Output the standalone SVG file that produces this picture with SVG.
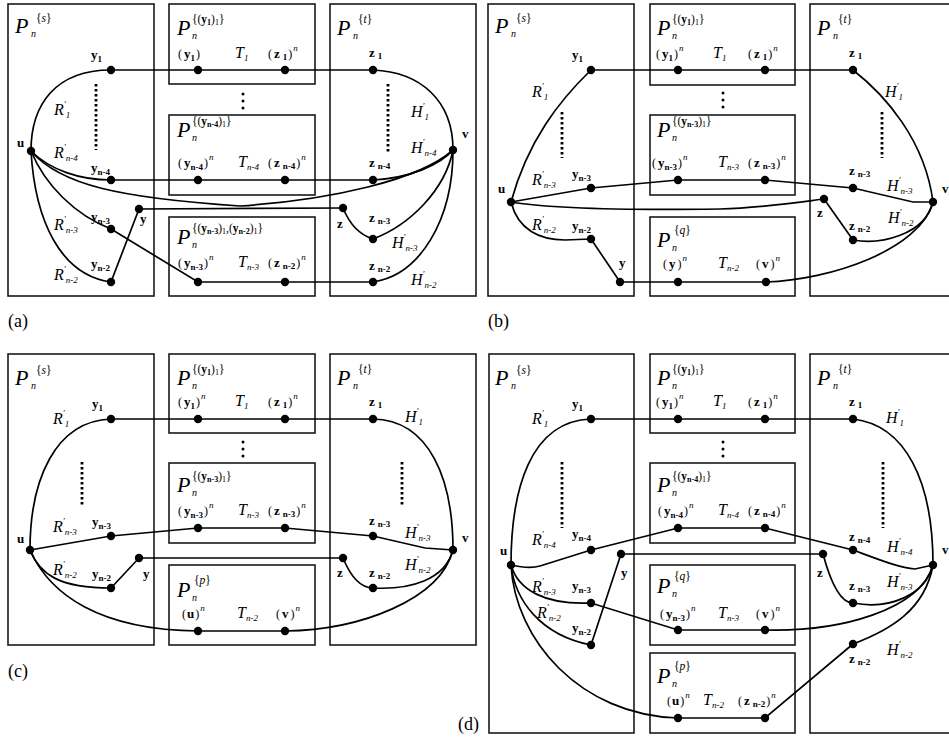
<svg xmlns="http://www.w3.org/2000/svg" width="949" height="737" viewBox="0 0 949 737">
<style>
.box{fill:none;stroke:#1a1a1a;stroke-width:1.6}
.e{fill:none;stroke:#000;stroke-width:1.7}
.d{fill:#000}
.dl{stroke:#000;stroke-width:2.8;stroke-dasharray:2.4 2.6}
text{font-family:'Liberation Serif','Times New Roman',serif;fill:#000}
.P{font-size:22px;font-style:italic}
.pn{font-size:10px;font-style:italic}
.sup{font-size:11.5px}
.sb{font-size:8px}
.b{font-size:13px;font-weight:bold}
.bs{font-size:9px;font-weight:bold}
.T{font-size:16px;font-style:italic}
.ts{font-size:9px;font-style:italic}
.par{font-size:12px}
.cap{font-size:18px}
</style>
<rect width="949" height="737" fill="#fff"/>

<!-- ================= (a) ================= -->
<g id="diagram-a">
<g id="a-Ps"><rect class="box" x="8" y="4" width="146" height="292"/>
<text class="P" x="15" y="33">P</text><text class="pn" x="31" y="37">n</text><text class="sup" x="36" y="22">{<tspan font-style="italic">s</tspan>}</text></g>
<g id="a-P1"><rect class="box" x="169" y="4" width="146" height="80"/>
<text class="P" x="177" y="35">P</text><text class="pn" x="192" y="39">n</text><text class="sup" x="192" y="23">{(<tspan font-weight="bold">y</tspan><tspan class="sb" font-weight="bold" dy="2">1</tspan><tspan dy="-2">)</tspan><tspan class="sb" dy="2">1</tspan><tspan dy="-2">}</tspan></text>
<text class="T" x="235" y="58">T<tspan class="ts" dy="3">1</tspan></text></g>
<g id="a-P2"><rect class="box" x="169" y="115" width="146" height="80"/>
<text class="P" x="177" y="137">P</text><text class="pn" x="192" y="141">n</text><text class="sup" x="192" y="125">{(<tspan font-weight="bold">y</tspan><tspan class="sb" font-weight="bold" dy="2">n-4</tspan><tspan dy="-2">)</tspan><tspan class="sb" dy="2">1</tspan><tspan dy="-2">}</tspan></text>
<text class="T" x="238" y="167">T<tspan class="ts" dy="3">n-4</tspan></text></g>
<g id="a-P3"><rect class="box" x="169" y="217" width="146" height="79"/>
<text class="P" x="177" y="244">P</text><text class="pn" x="192" y="248">n</text><text class="sup" x="192" y="232">{(<tspan font-weight="bold">y</tspan><tspan class="sb" font-weight="bold" dy="2">n-3</tspan><tspan dy="-2">)</tspan><tspan class="sb" dy="2">1</tspan><tspan dy="-2">,(</tspan><tspan font-weight="bold">y</tspan><tspan class="sb" font-weight="bold" dy="2">n-2</tspan><tspan dy="-2">)</tspan><tspan class="sb" dy="2">1</tspan><tspan dy="-2">}</tspan></text>
<text class="T" x="238" y="267">T<tspan class="ts" dy="3">n-3</tspan></text></g>
<g id="a-Pt"><rect class="box" x="330" y="4" width="146" height="292"/>
<text class="P" x="337" y="35">P</text><text class="pn" x="353" y="39">n</text><text class="sup" x="358" y="23">{<tspan font-style="italic">t</tspan>}</text></g>

<g id="a-edges">
<path class="e" d="M31,151 C31,105 55,70 111,70"/>
<path class="e" d="M111,70 H373"/>
<path class="e" d="M373,70 C420,72 453,100 453,150"/>
<path class="e" d="M31,151 C50,170 80,180 111,180"/>
<path class="e" d="M111,180 H373"/>
<path class="e" d="M373,180 C410,178 440,165 453,150"/>
<path class="e" d="M31,151 C60,185 120,198 240,206 C330,200 420,180 453,150"/>
<path class="e" d="M31,151 C45,185 75,215 111,229"/>
<path class="e" d="M31,151 C35,220 60,275 111,282"/>
<path class="e" d="M111,229 L198,282 H373"/>
<path class="e" d="M373,282 C420,275 453,220 453,150"/>
<path class="e" d="M111,282 L139,209 L343,208"/>
<path class="e" d="M343,208 C350,225 360,235 373,239"/>
<path class="e" d="M373,239 C410,225 445,190 453,150"/>
<line class="dl" x1="96" y1="84" x2="96" y2="150"/>
<line class="dl" x1="388" y1="84" x2="388" y2="152"/>
<circle class="d" cx="243" cy="94" r="1.5"/><circle class="d" cx="243" cy="101" r="1.5"/><circle class="d" cx="243" cy="108" r="1.5"/>
<text class="T" x="54" y="115">R<tspan class="ts" dy="-8">′</tspan><tspan class="ts" dy="11">1</tspan></text>
<text class="T" x="54" y="158">R<tspan class="ts" dy="-8">′</tspan><tspan class="ts" dy="11">n-4</tspan></text>
<text class="T" x="54" y="230">R<tspan class="ts" dy="-8">′</tspan><tspan class="ts" dy="11">n-3</tspan></text>
<text class="T" x="54" y="280">R<tspan class="ts" dy="-8">′</tspan><tspan class="ts" dy="11">n-2</tspan></text>
<text class="T" x="411" y="117">H<tspan class="ts" dy="-8">′</tspan><tspan class="ts" dy="11">1</tspan></text>
<text class="T" x="411" y="153">H<tspan class="ts" dy="-8">′</tspan><tspan class="ts" dy="11">n-4</tspan></text>
<text class="T" x="392" y="248">H<tspan class="ts" dy="-8">′</tspan><tspan class="ts" dy="11">n-3</tspan></text>
<text class="T" x="411" y="285">H<tspan class="ts" dy="-8">′</tspan><tspan class="ts" dy="11">n-2</tspan></text>
</g>

<g id="a-u"><circle class="d" cx="31" cy="151" r="4.2"/><text class="b" x="17" y="147">u</text></g>
<g id="a-v"><circle class="d" cx="453" cy="150" r="4.2"/><text class="b" x="462" y="138">v</text></g>
<g id="a-y1"><circle class="d" cx="111" cy="70" r="4.2"/><text class="b" x="91" y="59">y<tspan class="bs" dy="3">1</tspan></text></g>
<g id="a-yn4"><circle class="d" cx="111" cy="180" r="4.2"/><text class="b" x="91" y="172">y<tspan class="bs" dy="3">n-4</tspan></text></g>
<g id="a-yn3"><circle class="d" cx="111" cy="229" r="4.2"/><text class="b" x="91" y="221">y<tspan class="bs" dy="3">n-3</tspan></text></g>
<g id="a-yn2"><circle class="d" cx="111" cy="282" r="4.2"/><text class="b" x="91" y="268">y<tspan class="bs" dy="3">n-2</tspan></text></g>
<g id="a-y"><circle class="d" cx="139" cy="209" r="4.2"/><text class="b" x="140" y="223">y</text></g>
<g id="a-z"><circle class="d" cx="343" cy="208" r="4.2"/><text class="b" x="337" y="228">z</text></g>
<g id="a-z1"><circle class="d" cx="373" cy="70" r="4.2"/><text class="b" x="369" y="57">z<tspan class="bs" dx="3" dy="2">1</tspan></text></g>
<g id="a-zn4"><circle class="d" cx="373" cy="180" r="4.2"/><text class="b" x="369" y="167">z<tspan class="bs" dx="3" dy="2">n-4</tspan></text></g>
<g id="a-zn3"><circle class="d" cx="373" cy="239" r="4.2"/><text class="b" x="369" y="222">z<tspan class="bs" dx="3" dy="2">n-3</tspan></text></g>
<g id="a-zn2"><circle class="d" cx="373" cy="282" r="4.2"/><text class="b" x="369" y="270">z<tspan class="bs" dx="3" dy="2">n-2</tspan></text></g>
<g id="a-y1c"><circle class="d" cx="198" cy="70" r="4.2"/><text class="par" x="178" y="58">(<tspan class="b" dx="2">y</tspan><tspan class="bs" dy="3">1</tspan><tspan dx="1" dy="-3">)</tspan></text></g>
<g id="a-z1c"><circle class="d" cx="285" cy="70" r="4.2"/><text class="par" x="268" y="58">(<tspan class="b" dx="2">z</tspan><tspan class="bs" dx="3" dy="2">1</tspan><tspan dx="1" dy="-2">)</tspan><tspan class="ts" dx="1" dy="-7">n</tspan></text></g>
<g id="a-yn4c"><circle class="d" cx="198" cy="180" r="4.2"/><text class="par" x="178" y="167">(<tspan class="b" dx="2">y</tspan><tspan class="bs" dy="3">n-4</tspan><tspan dx="1" dy="-3">)</tspan><tspan class="ts" dx="1" dy="-7">n</tspan></text></g>
<g id="a-zn4c"><circle class="d" cx="285" cy="180" r="4.2"/><text class="par" x="268" y="167">(<tspan class="b" dx="2">z</tspan><tspan class="bs" dx="3" dy="2">n-4</tspan><tspan dx="1" dy="-2">)</tspan><tspan class="ts" dx="1" dy="-7">n</tspan></text></g>
<g id="a-yn3c"><circle class="d" cx="198" cy="282" r="4.2"/><text class="par" x="178" y="267">(<tspan class="b" dx="2">y</tspan><tspan class="bs" dy="3">n-3</tspan><tspan dx="1" dy="-3">)</tspan><tspan class="ts" dx="1" dy="-7">n</tspan></text></g>
<g id="a-zn2c"><circle class="d" cx="285" cy="282" r="4.2"/><text class="par" x="268" y="267">(<tspan class="b" dx="2">z</tspan><tspan class="bs" dx="3" dy="2">n-2</tspan><tspan dx="1" dy="-2">)</tspan><tspan class="ts" dx="1" dy="-7">n</tspan></text></g>
<text class="cap" x="8" y="327">(a)</text>
</g>

<!-- ================= (b) ================= -->
<g id="diagram-b">
<g id="b-Ps"><rect class="box" x="488" y="4" width="146" height="292"/>
<text class="P" x="495" y="33">P</text><text class="pn" x="511" y="37">n</text><text class="sup" x="516" y="22">{<tspan font-style="italic">s</tspan>}</text></g>
<g id="b-P1"><rect class="box" x="650" y="4" width="145" height="81"/>
<text class="P" x="657" y="35">P</text><text class="pn" x="672" y="39">n</text><text class="sup" x="672" y="23">{(<tspan font-weight="bold">y</tspan><tspan class="sb" font-weight="bold" dy="2">1</tspan><tspan dy="-2">)</tspan><tspan class="sb" dy="2">1</tspan><tspan dy="-2">}</tspan></text>
<text class="T" x="713" y="58">T<tspan class="ts" dy="3">1</tspan></text></g>
<g id="b-P2"><rect class="box" x="650" y="115" width="145" height="80"/>
<text class="P" x="657" y="137">P</text><text class="pn" x="672" y="141">n</text><text class="sup" x="672" y="125">{(<tspan font-weight="bold">y</tspan><tspan class="sb" font-weight="bold" dy="2">n-3</tspan><tspan dy="-2">)</tspan><tspan class="sb" dy="2">1</tspan><tspan dy="-2">}</tspan></text>
<text class="T" x="718" y="167">T<tspan class="ts" dy="3">n-3</tspan></text></g>
<g id="b-P3"><rect class="box" x="650" y="217" width="145" height="79"/>
<text class="P" x="657" y="247">P</text><text class="pn" x="672" y="251">n</text><text class="sup" x="674" y="234">{<tspan font-style="italic">q</tspan>}</text>
<text class="T" x="718" y="268">T<tspan class="ts" dy="3">n-2</tspan></text></g>
<g id="b-Pt"><rect class="box" x="810" y="4" width="146" height="292"/>
<text class="P" x="817" y="35">P</text><text class="pn" x="833" y="39">n</text><text class="sup" x="838" y="23">{<tspan font-style="italic">t</tspan>}</text></g>

<g id="b-edges">
<path class="e" d="M511,202 C528,140 560,100 591,70"/>
<path class="e" d="M591,70 H853"/>
<path class="e" d="M853,70 C885,95 925,140 933,202"/>
<path class="e" d="M511,202 L591,188 L678,180 H765 L853,188 L913,202 L933,202"/>
<path class="e" d="M511,202 C560,210 650,210 720,209 C760,208 800,202 824,199"/>
<path class="e" d="M511,202 C518,230 540,240 565,240 L591,239"/>
<path class="e" d="M591,239 L620,282 H766"/>
<path class="e" d="M766,282 C830,280 920,250 933,202"/>
<path class="e" d="M824,199 L853,240"/>
<path class="e" d="M853,240 C880,245 925,235 933,202"/>
<line class="dl" x1="562" y1="112" x2="562" y2="158"/>
<line class="dl" x1="882" y1="112" x2="882" y2="158"/>
<circle class="d" cx="723" cy="93" r="1.5"/><circle class="d" cx="723" cy="100" r="1.5"/><circle class="d" cx="723" cy="107" r="1.5"/>
<text class="T" x="532" y="97">R<tspan class="ts" dy="-8">′</tspan><tspan class="ts" dy="11">1</tspan></text>
<text class="T" x="532" y="185">R<tspan class="ts" dy="-8">′</tspan><tspan class="ts" dy="11">n-3</tspan></text>
<text class="T" x="532" y="230">R<tspan class="ts" dy="-8">′</tspan><tspan class="ts" dy="11">n-2</tspan></text>
<text class="T" x="885" y="97">H<tspan class="ts" dy="-8">′</tspan><tspan class="ts" dy="11">1</tspan></text>
<text class="T" x="887" y="191">H<tspan class="ts" dy="-8">′</tspan><tspan class="ts" dy="11">n-3</tspan></text>
<text class="T" x="888" y="223">H<tspan class="ts" dy="-8">′</tspan><tspan class="ts" dy="11">n-2</tspan></text>
</g>

<g id="b-u"><circle class="d" cx="511" cy="202" r="4.2"/><text class="b" x="498" y="193">u</text></g>
<g id="b-v"><circle class="d" cx="933" cy="202" r="4.2"/><text class="b" x="942" y="193">v</text></g>
<g id="b-y1"><circle class="d" cx="591" cy="70" r="4.2"/><text class="b" x="572" y="59">y<tspan class="bs" dy="3">1</tspan></text></g>
<g id="b-yn3"><circle class="d" cx="591" cy="188" r="4.2"/><text class="b" x="572" y="178">y<tspan class="bs" dy="3">n-3</tspan></text></g>
<g id="b-yn2"><circle class="d" cx="591" cy="239" r="4.2"/><text class="b" x="572" y="230">y<tspan class="bs" dy="3">n-2</tspan></text></g>
<g id="b-y"><circle class="d" cx="620" cy="282" r="4.2"/><text class="b" x="619" y="267">y</text></g>
<g id="b-z"><circle class="d" cx="824" cy="199" r="4.2"/><text class="b" x="817" y="217">z</text></g>
<g id="b-z1"><circle class="d" cx="853" cy="70" r="4.2"/><text class="b" x="849" y="57">z<tspan class="bs" dx="3" dy="2">1</tspan></text></g>
<g id="b-zn3"><circle class="d" cx="853" cy="188" r="4.2"/><text class="b" x="849" y="175">z<tspan class="bs" dx="3" dy="2">n-3</tspan></text></g>
<g id="b-zn2"><circle class="d" cx="853" cy="240" r="4.2"/><text class="b" x="849" y="230">z<tspan class="bs" dx="3" dy="2">n-2</tspan></text></g>
<g id="b-y1c"><circle class="d" cx="678" cy="70" r="4.2"/><text class="par" x="656" y="58">(<tspan class="b" dx="2">y</tspan><tspan class="bs" dy="3">1</tspan><tspan dx="1" dy="-3">)</tspan><tspan class="ts" dx="1" dy="-7">n</tspan></text></g>
<g id="b-z1c"><circle class="d" cx="765" cy="70" r="4.2"/><text class="par" x="748" y="58">(<tspan class="b" dx="2">z</tspan><tspan class="bs" dx="3" dy="2">1</tspan><tspan dx="1" dy="-2">)</tspan><tspan class="ts" dx="1" dy="-7">n</tspan></text></g>
<g id="b-yn3c"><circle class="d" cx="678" cy="180" r="4.2"/><text class="par" x="652" y="167">(<tspan class="b" dx="2">y</tspan><tspan class="bs" dy="3">n-3</tspan><tspan dx="1" dy="-3">)</tspan><tspan class="ts" dx="1" dy="-7">n</tspan></text></g>
<g id="b-zn3c"><circle class="d" cx="765" cy="180" r="4.2"/><text class="par" x="748" y="167">(<tspan class="b" dx="2">z</tspan><tspan class="bs" dx="3" dy="2">n-3</tspan><tspan dx="1" dy="-2">)</tspan><tspan class="ts" dx="1" dy="-7">n</tspan></text></g>
<g id="b-yc"><circle class="d" cx="678" cy="282" r="4.2"/><text class="par" x="663" y="268">(<tspan class="b" dx="2">y</tspan><tspan dx="2">)</tspan><tspan class="ts" dx="1" dy="-7">n</tspan></text></g>
<g id="b-vc"><circle class="d" cx="766" cy="282" r="4.2"/><text class="par" x="756" y="268">(<tspan class="b" dx="2">v</tspan><tspan dx="2">)</tspan><tspan class="ts" dx="1" dy="-7">n</tspan></text></g>
<text class="cap" x="488" y="327">(b)</text>
</g>

<!-- ================= (c) ================= -->
<g id="diagram-c">
<g id="c-Ps"><rect class="box" x="8" y="354" width="146" height="291"/>
<text class="P" x="15" y="385">P</text><text class="pn" x="31" y="389">n</text><text class="sup" x="36" y="374">{<tspan font-style="italic">s</tspan>}</text></g>
<g id="c-P1"><rect class="box" x="169" y="354" width="146" height="79"/>
<text class="P" x="177" y="385">P</text><text class="pn" x="192" y="389">n</text><text class="sup" x="192" y="373">{(<tspan font-weight="bold">y</tspan><tspan class="sb" font-weight="bold" dy="2">1</tspan><tspan dy="-2">)</tspan><tspan class="sb" dy="2">1</tspan><tspan dy="-2">}</tspan></text>
<text class="T" x="235" y="406">T<tspan class="ts" dy="3">1</tspan></text></g>
<g id="c-P2"><rect class="box" x="169" y="463" width="146" height="80"/>
<text class="P" x="177" y="492">P</text><text class="pn" x="192" y="496">n</text><text class="sup" x="192" y="480">{(<tspan font-weight="bold">y</tspan><tspan class="sb" font-weight="bold" dy="2">n-3</tspan><tspan dy="-2">)</tspan><tspan class="sb" dy="2">1</tspan><tspan dy="-2">}</tspan></text>
<text class="T" x="238" y="515">T<tspan class="ts" dy="3">n-3</tspan></text></g>
<g id="c-P3"><rect class="box" x="169" y="565" width="146" height="80"/>
<text class="P" x="177" y="597">P</text><text class="pn" x="192" y="601">n</text><text class="sup" x="194" y="584">{<tspan font-style="italic">p</tspan>}</text>
<text class="T" x="237" y="618">T<tspan class="ts" dy="3">n-2</tspan></text></g>
<g id="c-Pt"><rect class="box" x="330" y="354" width="146" height="291"/>
<text class="P" x="337" y="385">P</text><text class="pn" x="353" y="389">n</text><text class="sup" x="358" y="373">{<tspan font-style="italic">t</tspan>}</text></g>

<g id="c-edges">
<path class="e" d="M30,550 C30,480 55,421 111,419"/>
<path class="e" d="M111,419 H373"/>
<path class="e" d="M373,419 C430,420 453,480 453,550"/>
<path class="e" d="M30,550 L111,536 L198,528 H285 L373,536 L425,548 L453,550"/>
<path class="e" d="M30,550 C40,575 60,588 111,588"/>
<path class="e" d="M111,588 L139,558 H343"/>
<path class="e" d="M343,558 C350,575 360,588 373,588"/>
<path class="e" d="M373,588 C410,590 445,580 453,550"/>
<path class="e" d="M30,550 C50,595 100,630 198,631 H285"/>
<path class="e" d="M285,631 C360,630 440,600 453,550"/>
<line class="dl" x1="82" y1="462" x2="82" y2="507"/>
<line class="dl" x1="402" y1="462" x2="402" y2="507"/>
<circle class="d" cx="243" cy="442" r="1.5"/><circle class="d" cx="243" cy="449" r="1.5"/><circle class="d" cx="243" cy="456" r="1.5"/>
<text class="T" x="53" y="424">R<tspan class="ts" dy="-8">′</tspan><tspan class="ts" dy="11">1</tspan></text>
<text class="T" x="53" y="532">R<tspan class="ts" dy="-8">′</tspan><tspan class="ts" dy="11">n-3</tspan></text>
<text class="T" x="53" y="575">R<tspan class="ts" dy="-8">′</tspan><tspan class="ts" dy="11">n-2</tspan></text>
<text class="T" x="405" y="422">H<tspan class="ts" dy="-8">′</tspan><tspan class="ts" dy="11">1</tspan></text>
<text class="T" x="405" y="538">H<tspan class="ts" dy="-8">′</tspan><tspan class="ts" dy="11">n-3</tspan></text>
<text class="T" x="405" y="570">H<tspan class="ts" dy="-8">′</tspan><tspan class="ts" dy="11">n-2</tspan></text>
</g>

<g id="c-u"><circle class="d" cx="30" cy="550" r="4.2"/><text class="b" x="17" y="543">u</text></g>
<g id="c-v"><circle class="d" cx="453" cy="550" r="4.2"/><text class="b" x="462" y="542">v</text></g>
<g id="c-y1"><circle class="d" cx="111" cy="419" r="4.2"/><text class="b" x="92" y="408">y<tspan class="bs" dy="3">1</tspan></text></g>
<g id="c-yn3"><circle class="d" cx="111" cy="536" r="4.2"/><text class="b" x="92" y="526">y<tspan class="bs" dy="3">n-3</tspan></text></g>
<g id="c-yn2"><circle class="d" cx="111" cy="588" r="4.2"/><text class="b" x="92" y="578">y<tspan class="bs" dy="3">n-2</tspan></text></g>
<g id="c-y"><circle class="d" cx="139" cy="558" r="4.2"/><text class="b" x="143" y="578">y</text></g>
<g id="c-z"><circle class="d" cx="343" cy="558" r="4.2"/><text class="b" x="337" y="577">z</text></g>
<g id="c-z1"><circle class="d" cx="373" cy="419" r="4.2"/><text class="b" x="369" y="406">z<tspan class="bs" dx="3" dy="2">1</tspan></text></g>
<g id="c-zn3"><circle class="d" cx="373" cy="536" r="4.2"/><text class="b" x="369" y="525">z<tspan class="bs" dx="3" dy="2">n-3</tspan></text></g>
<g id="c-zn2"><circle class="d" cx="373" cy="588" r="4.2"/><text class="b" x="369" y="577">z<tspan class="bs" dx="3" dy="2">n-2</tspan></text></g>
<g id="c-y1c"><circle class="d" cx="198" cy="419" r="4.2"/><text class="par" x="178" y="406">(<tspan class="b" dx="2">y</tspan><tspan class="bs" dy="3">1</tspan><tspan dx="1" dy="-3">)</tspan><tspan class="ts" dx="1" dy="-7">n</tspan></text></g>
<g id="c-z1c"><circle class="d" cx="285" cy="419" r="4.2"/><text class="par" x="268" y="406">(<tspan class="b" dx="2">z</tspan><tspan class="bs" dx="3" dy="2">1</tspan><tspan dx="1" dy="-2">)</tspan><tspan class="ts" dx="1" dy="-7">n</tspan></text></g>
<g id="c-yn3c"><circle class="d" cx="198" cy="528" r="4.2"/><text class="par" x="178" y="515">(<tspan class="b" dx="2">y</tspan><tspan class="bs" dy="3">n-3</tspan><tspan dx="1" dy="-3">)</tspan><tspan class="ts" dx="1" dy="-7">n</tspan></text></g>
<g id="c-zn3c"><circle class="d" cx="285" cy="528" r="4.2"/><text class="par" x="268" y="515">(<tspan class="b" dx="2">z</tspan><tspan class="bs" dx="3" dy="2">n-3</tspan><tspan dx="1" dy="-2">)</tspan><tspan class="ts" dx="1" dy="-7">n</tspan></text></g>
<g id="c-uc"><circle class="d" cx="198" cy="631" r="4.2"/><text class="par" x="182" y="618">(<tspan class="b" dx="1">u</tspan><tspan dx="1">)</tspan><tspan class="ts" dx="1" dy="-7">n</tspan></text></g>
<g id="c-vc"><circle class="d" cx="285" cy="631" r="4.2"/><text class="par" x="276" y="618">(<tspan class="b" dx="2">v</tspan><tspan dx="2">)</tspan><tspan class="ts" dx="1" dy="-7">n</tspan></text></g>
<text class="cap" x="8" y="677">(c)</text>
</g>

<!-- ================= (d) ================= -->
<g id="diagram-d">
<g id="d-Ps"><rect class="box" x="489" y="354" width="145" height="379"/>
<text class="P" x="495" y="385">P</text><text class="pn" x="511" y="389">n</text><text class="sup" x="516" y="374">{<tspan font-style="italic">s</tspan>}</text></g>
<g id="d-P1"><rect class="box" x="650" y="354" width="145" height="79"/>
<text class="P" x="657" y="385">P</text><text class="pn" x="672" y="389">n</text><text class="sup" x="672" y="373">{(<tspan font-weight="bold">y</tspan><tspan class="sb" font-weight="bold" dy="2">1</tspan><tspan dy="-2">)</tspan><tspan class="sb" dy="2">1</tspan><tspan dy="-2">}</tspan></text>
<text class="T" x="713" y="406">T<tspan class="ts" dy="3">1</tspan></text></g>
<g id="d-P2"><rect class="box" x="650" y="463" width="145" height="80"/>
<text class="P" x="657" y="492">P</text><text class="pn" x="672" y="496">n</text><text class="sup" x="672" y="480">{(<tspan font-weight="bold">y</tspan><tspan class="sb" font-weight="bold" dy="2">n-4</tspan><tspan dy="-2">)</tspan><tspan class="sb" dy="2">1</tspan><tspan dy="-2">}</tspan></text>
<text class="T" x="718" y="515">T<tspan class="ts" dy="3">n-4</tspan></text></g>
<g id="d-P3"><rect class="box" x="650" y="565" width="145" height="80"/>
<text class="P" x="657" y="593">P</text><text class="pn" x="672" y="597">n</text><text class="sup" x="674" y="580">{<tspan font-style="italic">q</tspan>}</text>
<text class="T" x="718" y="618">T<tspan class="ts" dy="3">n-3</tspan></text></g>
<g id="d-P4"><rect class="box" x="650" y="653" width="145" height="80"/>
<text class="P" x="657" y="683">P</text><text class="pn" x="672" y="687">n</text><text class="sup" x="674" y="670">{<tspan font-style="italic">p</tspan>}</text>
<text class="T" x="703" y="705">T<tspan class="ts" dy="3">n-2</tspan></text></g>
<g id="d-Pt"><rect class="box" x="810" y="354" width="146" height="379"/>
<text class="P" x="817" y="385">P</text><text class="pn" x="833" y="389">n</text><text class="sup" x="838" y="373">{<tspan font-style="italic">t</tspan>}</text></g>

<g id="d-edges">
<path class="e" d="M511,565 C511,490 530,421 591,419"/>
<path class="e" d="M591,419 H853"/>
<path class="e" d="M853,419 C905,425 933,480 933,565"/>
<path class="e" d="M511,565 C520,567 530,569 540,566 L591,550 L678,528 H765 L853,550 C880,560 900,568 915,569 L933,565"/>
<path class="e" d="M511,565 C518,590 545,605 591,603 L678,630 H765"/>
<path class="e" d="M765,630 C840,632 920,610 933,565"/>
<path class="e" d="M511,565 C515,600 540,635 591,645"/>
<path class="e" d="M591,645 L621,554 H823"/>
<path class="e" d="M823,554 C830,580 840,603 853,603"/>
<path class="e" d="M853,603 C890,610 925,595 933,565"/>
<path class="e" d="M511,565 C515,640 580,715 678,718 H765 L853,644"/>
<path class="e" d="M853,644 C890,630 925,610 933,565"/>
<line class="dl" x1="562" y1="462" x2="562" y2="528"/>
<line class="dl" x1="883" y1="462" x2="883" y2="528"/>
<circle class="d" cx="723" cy="442" r="1.5"/><circle class="d" cx="723" cy="449" r="1.5"/><circle class="d" cx="723" cy="456" r="1.5"/>
<text class="T" x="532" y="424">R<tspan class="ts" dy="-8">′</tspan><tspan class="ts" dy="11">1</tspan></text>
<text class="T" x="532" y="545">R<tspan class="ts" dy="-8">′</tspan><tspan class="ts" dy="11">n-4</tspan></text>
<text class="T" x="532" y="592">R<tspan class="ts" dy="-8">′</tspan><tspan class="ts" dy="11">n-3</tspan></text>
<text class="T" x="537" y="618">R<tspan class="ts" dy="-8">′</tspan><tspan class="ts" dy="11">n-2</tspan></text>
<text class="T" x="886" y="423">H<tspan class="ts" dy="-8">′</tspan><tspan class="ts" dy="11">1</tspan></text>
<text class="T" x="887" y="552">H<tspan class="ts" dy="-8">′</tspan><tspan class="ts" dy="11">n-4</tspan></text>
<text class="T" x="887" y="587">H<tspan class="ts" dy="-8">′</tspan><tspan class="ts" dy="11">n-3</tspan></text>
<text class="T" x="887" y="655">H<tspan class="ts" dy="-8">′</tspan><tspan class="ts" dy="11">n-2</tspan></text>
</g>

<g id="d-u"><circle class="d" cx="511" cy="565" r="4.2"/><text class="b" x="500" y="555">u</text></g>
<g id="d-v"><circle class="d" cx="933" cy="565" r="4.2"/><text class="b" x="942" y="554">v</text></g>
<g id="d-y1"><circle class="d" cx="591" cy="419" r="4.2"/><text class="b" x="572" y="408">y<tspan class="bs" dy="3">1</tspan></text></g>
<g id="d-yn4"><circle class="d" cx="591" cy="550" r="4.2"/><text class="b" x="572" y="538">y<tspan class="bs" dy="3">n-4</tspan></text></g>
<g id="d-yn3"><circle class="d" cx="591" cy="603" r="4.2"/><text class="b" x="572" y="590">y<tspan class="bs" dy="3">n-3</tspan></text></g>
<g id="d-yn2"><circle class="d" cx="591" cy="645" r="4.2"/><text class="b" x="572" y="632">y<tspan class="bs" dy="3">n-2</tspan></text></g>
<g id="d-y"><circle class="d" cx="621" cy="554" r="4.2"/><text class="b" x="621" y="577">y</text></g>
<g id="d-z"><circle class="d" cx="823" cy="554" r="4.2"/><text class="b" x="817" y="577">z</text></g>
<g id="d-z1"><circle class="d" cx="853" cy="419" r="4.2"/><text class="b" x="849" y="406">z<tspan class="bs" dx="3" dy="2">1</tspan></text></g>
<g id="d-zn4"><circle class="d" cx="853" cy="550" r="4.2"/><text class="b" x="849" y="541">z<tspan class="bs" dx="3" dy="2">n-4</tspan></text></g>
<g id="d-zn3"><circle class="d" cx="853" cy="603" r="4.2"/><text class="b" x="849" y="590">z<tspan class="bs" dx="3" dy="2">n-3</tspan></text></g>
<g id="d-zn2"><circle class="d" cx="853" cy="644" r="4.2"/><text class="b" x="849" y="663">z<tspan class="bs" dx="3" dy="2">n-2</tspan></text></g>
<g id="d-y1c"><circle class="d" cx="678" cy="419" r="4.2"/><text class="par" x="656" y="406">(<tspan class="b" dx="2">y</tspan><tspan class="bs" dy="3">1</tspan><tspan dx="1" dy="-3">)</tspan><tspan class="ts" dx="1" dy="-7">n</tspan></text></g>
<g id="d-z1c"><circle class="d" cx="765" cy="419" r="4.2"/><text class="par" x="748" y="406">(<tspan class="b" dx="2">z</tspan><tspan class="bs" dx="3" dy="2">1</tspan><tspan dx="1" dy="-2">)</tspan><tspan class="ts" dx="1" dy="-7">n</tspan></text></g>
<g id="d-yn4c"><circle class="d" cx="678" cy="528" r="4.2"/><text class="par" x="658" y="515">(<tspan class="b" dx="2">y</tspan><tspan class="bs" dy="3">n-4</tspan><tspan dx="1" dy="-3">)</tspan><tspan class="ts" dx="1" dy="-7">n</tspan></text></g>
<g id="d-zn4c"><circle class="d" cx="765" cy="528" r="4.2"/><text class="par" x="748" y="515">(<tspan class="b" dx="2">z</tspan><tspan class="bs" dx="3" dy="2">n-4</tspan><tspan dx="1" dy="-2">)</tspan><tspan class="ts" dx="1" dy="-7">n</tspan></text></g>
<g id="d-yn3c"><circle class="d" cx="678" cy="630" r="4.2"/><text class="par" x="660" y="618">(<tspan class="b" dx="2">y</tspan><tspan class="bs" dy="3">n-3</tspan><tspan dx="1" dy="-3">)</tspan><tspan class="ts" dx="1" dy="-7">n</tspan></text></g>
<g id="d-vc"><circle class="d" cx="765" cy="630" r="4.2"/><text class="par" x="756" y="618">(<tspan class="b" dx="2">v</tspan><tspan dx="2">)</tspan><tspan class="ts" dx="1" dy="-7">n</tspan></text></g>
<g id="d-uc"><circle class="d" cx="678" cy="718" r="4.2"/><text class="par" x="667" y="705">(<tspan class="b" dx="1">u</tspan><tspan dx="1">)</tspan><tspan class="ts" dx="1" dy="-7">n</tspan></text></g>
<g id="d-zn2c"><circle class="d" cx="765" cy="718" r="4.2"/><text class="par" x="738" y="705">(<tspan class="b" dx="2">z</tspan><tspan class="bs" dx="3" dy="2">n-2</tspan><tspan dx="1" dy="-2">)</tspan><tspan class="ts" dx="1" dy="-7">n</tspan></text></g>
<text class="cap" x="458" y="730">(d)</text>
</g>
</svg>
